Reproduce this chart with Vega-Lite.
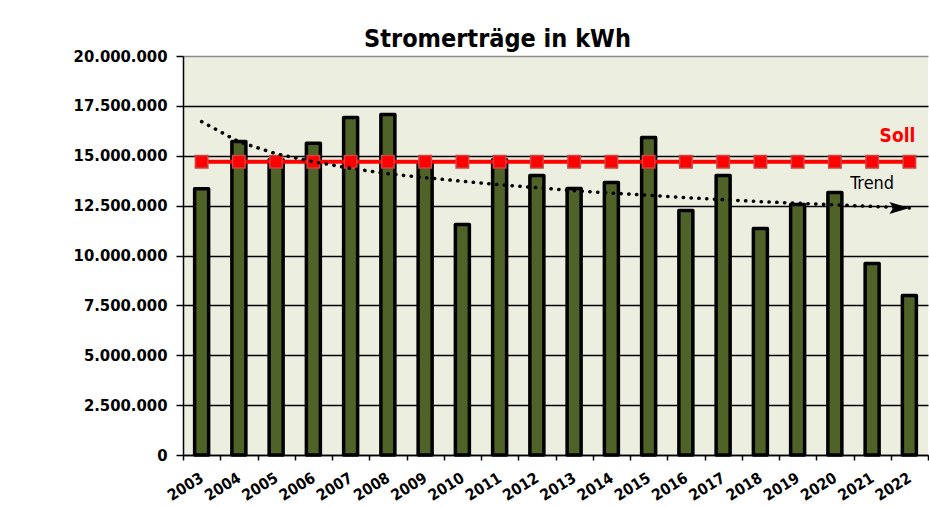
{
  "$schema": "https://vega.github.io/schema/vega-lite/v6.json",
  "width": 745,
  "height": 399,
  "autosize": {"type": "none"},
  "padding": {"left": 183, "top": 56, "right": 1, "bottom": 52},
  "background": "white",
  "config": {
    "locale": {"number": {"decimal": ",", "thousands": ".", "grouping": [3], "currency": ["", " €"]}},
    "view": {"fill": "#ECEFDF", "stroke": null},
    "font": "DejaVu Sans Condensed"
  },
  "title": {
    "text": "Stromerträge in kWh",
    "font": "DejaVu Sans Condensed",
    "fontSize": 25,
    "fontWeight": "bold",
    "color": "black",
    "anchor": "middle",
    "dx": -58,
    "offset": -4
  },
  "data": {
    "values": [
      {"jahr": "2003", "ertrag": 13350000, "soll": 14700000},
      {"jahr": "2004", "ertrag": 15720000, "soll": 14700000},
      {"jahr": "2005", "ertrag": 14800000, "soll": 14700000},
      {"jahr": "2006", "ertrag": 15630000, "soll": 14700000},
      {"jahr": "2007", "ertrag": 16920000, "soll": 14700000},
      {"jahr": "2008", "ertrag": 17070000, "soll": 14700000},
      {"jahr": "2009", "ertrag": 14600000, "soll": 14700000},
      {"jahr": "2010", "ertrag": 11550000, "soll": 14700000},
      {"jahr": "2011", "ertrag": 14800000, "soll": 14700000},
      {"jahr": "2012", "ertrag": 14010000, "soll": 14700000},
      {"jahr": "2013", "ertrag": 13360000, "soll": 14700000},
      {"jahr": "2014", "ertrag": 13660000, "soll": 14700000},
      {"jahr": "2015", "ertrag": 15910000, "soll": 14700000},
      {"jahr": "2016", "ertrag": 12260000, "soll": 14700000},
      {"jahr": "2017", "ertrag": 14010000, "soll": 14700000},
      {"jahr": "2018", "ertrag": 11350000, "soll": 14700000},
      {"jahr": "2019", "ertrag": 12560000, "soll": 14700000},
      {"jahr": "2020", "ertrag": 13160000, "soll": 14700000},
      {"jahr": "2021", "ertrag": 9600000, "soll": 14700000},
      {"jahr": "2022", "ertrag": 8000000, "soll": 14700000}
    ]
  },
  "encoding": {
    "x": {
      "field": "jahr",
      "type": "ordinal",
      "scale": {"type": "band", "paddingInner": 0, "paddingOuter": 0},
      "axis": {
        "title": null,
        "labelAngle": -32,
        "labelAlign": "right",
        "labelBaseline": "middle",
        "labelFont": "DejaVu Sans Condensed",
        "labelFontSize": 15.5,
        "labelFontWeight": "bold",
        "labelColor": "black",
        "labelPadding": 16,
        "tickBand": "extent",
        "tickSize": 5,
        "tickColor": "black",
        "tickWidth": 1.5,
        "domainColor": "black",
        "domainWidth": 1.5,
        "grid": false
      }
    }
  },
  "layer": [
    {
      "mark": {"type": "bar", "size": 14, "fill": "#4F6228", "stroke": "black", "strokeWidth": 3.5, "strokeJoin": "round"},
      "encoding": {
        "y": {
          "field": "ertrag",
          "type": "quantitative",
          "scale": {"domain": [0, 20000000], "nice": false},
          "axis": {
            "title": null,
            "values": [0, 2500000, 5000000, 7500000, 10000000, 12500000, 15000000, 17500000, 20000000],
            "format": ",d",
            "labelFont": "DejaVu Sans Condensed",
            "labelFontSize": 16.5,
            "labelFontWeight": "bold",
            "labelColor": "black",
            "labelPadding": 9,
            "tickSize": 7,
            "tickColor": "black",
            "tickWidth": 1.5,
            "domainColor": "black",
            "domainWidth": 1.5,
            "grid": true,
            "gridColor": {"condition": {"test": "datum.value === 20000000", "value": "#8a8a8a"}, "value": "black"},
            "gridWidth": 1.5,
            "gridOpacity": 1
          }
        }
      }
    },
    {
      "mark": {"type": "line", "color": "#FF0000", "strokeWidth": 4},
      "encoding": {"y": {"field": "soll", "type": "quantitative"}}
    },
    {
      "mark": {"type": "point", "shape": "square", "filled": true, "size": 156, "fill": "#FF0000", "stroke": "#cc4444", "strokeWidth": 1.5, "opacity": 1},
      "encoding": {"y": {"field": "soll", "type": "quantitative"}}
    },
    {
      "data": {
        "values": [
          {"jahr": "2003", "trend": 16710000},
          {"jahr": "2004", "trend": 15700000},
          {"jahr": "2005", "trend": 15100000},
          {"jahr": "2006", "trend": 14700000},
          {"jahr": "2007", "trend": 14370000},
          {"jahr": "2008", "trend": 14100000},
          {"jahr": "2009", "trend": 13900000},
          {"jahr": "2010", "trend": 13720000},
          {"jahr": "2011", "trend": 13550000},
          {"jahr": "2012", "trend": 13400000},
          {"jahr": "2013", "trend": 13250000},
          {"jahr": "2014", "trend": 13130000},
          {"jahr": "2015", "trend": 13020000},
          {"jahr": "2016", "trend": 12900000},
          {"jahr": "2017", "trend": 12800000},
          {"jahr": "2018", "trend": 12700000},
          {"jahr": "2019", "trend": 12620000},
          {"jahr": "2020", "trend": 12540000},
          {"jahr": "2021", "trend": 12460000},
          {"jahr": "2022", "trend": 12380000}
        ]
      },
      "layer": [
        {
          "mark": {"type": "line", "color": "black", "strokeWidth": 3.5, "strokeCap": "round", "strokeDash": [0.3, 7.5]},
          "encoding": {"y": {"field": "trend", "type": "quantitative"}}
        },
        {
          "transform": [{"filter": "datum.jahr === '2022'"}],
          "mark": {"type": "point", "shape": "M-1,-0.6L1,0L-1,0.6L-0.6,0Z", "filled": true, "fill": "black", "stroke": null, "size": 400, "xOffset": -10, "opacity": 1},
          "encoding": {"y": {"field": "trend", "type": "quantitative"}}
        }
      ]
    },
    {
      "data": {"values": [{"label": "Soll"}]},
      "mark": {"type": "text", "align": "right", "baseline": "alphabetic", "dx": 6, "font": "DejaVu Sans Condensed", "fontSize": 19, "fontWeight": "bold", "color": "#FF0000"},
      "encoding": {
        "x": {"datum": "2022"},
        "y": {"datum": 15690000},
        "text": {"field": "label"}
      }
    },
    {
      "data": {"values": [{"label": "Trend"}]},
      "mark": {"type": "text", "align": "center", "baseline": "alphabetic", "font": "DejaVu Sans Condensed", "fontSize": 18, "color": "black"},
      "encoding": {
        "x": {"datum": "2021"},
        "y": {"datum": 13330000},
        "text": {"field": "label"}
      }
    }
  ]
}
